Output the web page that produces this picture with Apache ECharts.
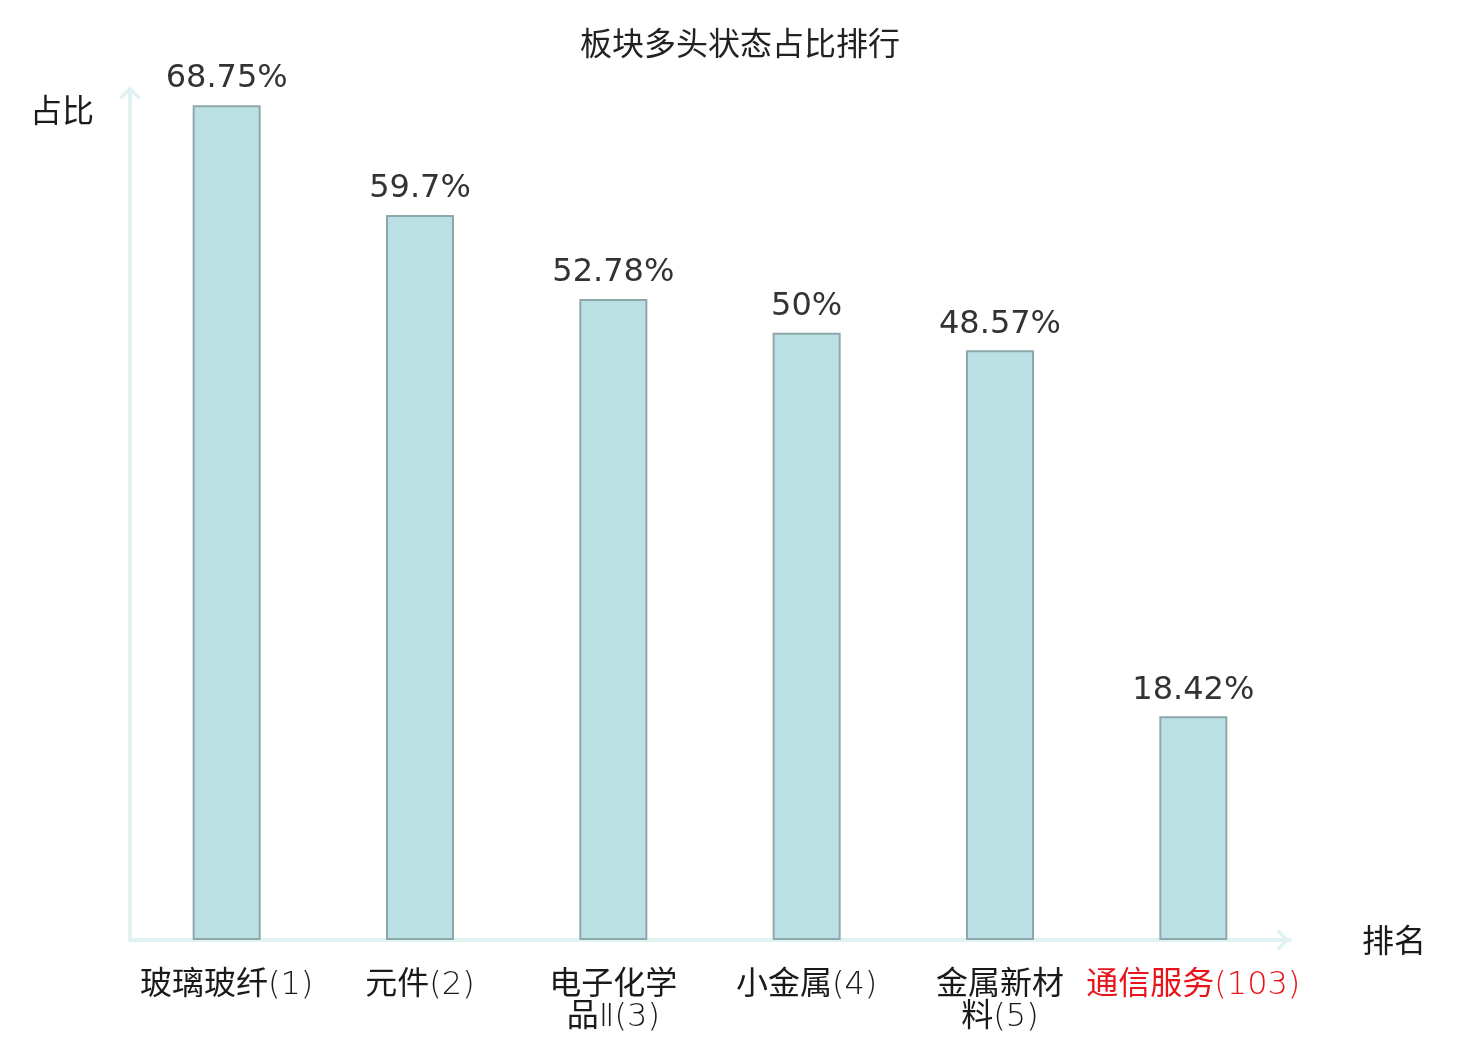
<!DOCTYPE html>
<html>
<head>
<meta charset="utf-8">
<title>板块多头状态占比排行</title>
<script src="https://cdn.jsdelivr.net/npm/echarts@6/dist/echarts.min.js"></script>
<style>
  html, body { margin: 0; padding: 0; background: #fff; }
  #main { width: 1480px; height: 1040px; }
</style>
</head>
<body>
<div id="main"></div>
<script>
// 板块名称、排名、多头占比
const sectors = ['玻璃玻纤', '元件', '电子化学品Ⅱ', '小金属', '金属新材料', '通信服务'];
const ranks = [1, 2, 3, 4, 5, 103];
const ratios = [68.75, 59.7, 52.78, 50, 48.57, 18.42];
const highlightIdx = 5; // 当前关注板块，标红

const axisColor = '#e0f2f1';
const labelColor = '#1a1a1a';
const chevron = 'path://M11,0 L22,11 L19.5,13.5 L11,5 L2.5,13.5 L0,11 Z';

// 名称超过4个字就换行
function wrapName(name, rank) {
  let s = name.length > 4 ? name.slice(0, 4) + '\n' + name.slice(4) : name;
  return s + '(' + rank + ')';
}

let xData = sectors.map(function (n, i) {
  let item = { value: wrapName(n, ranks[i]) };
  if (i === highlightIdx) {
    item.textStyle = { color: '#e8141b' };
  }
  return item;
});

let chart = echarts.init(document.getElementById('main'));
let option = {
  title: {
    text: '板块多头状态占比排行',
    left: 'center',
    top: 22,
    textStyle: {
      fontFamily: 'Noto Sans CJK SC',
      fontSize: 32,
      fontWeight: 'normal',
      color: '#222'
    }
  },
  grid: {
    left: 130,
    right: 190,
    top: 90,
    bottom: 100
  },
  xAxis: {
    type: 'category',
    data: xData,
    name: '排名',
    nameLocation: 'end',
    nameGap: 72,
    nameTextStyle: {
      fontFamily: 'Noto Sans CJK SC',
      fontSize: 32,
      color: labelColor,
      verticalAlign: 'middle'
    },
    axisLine: {
      show: true,
      symbol: ['none', chevron],
      symbolSize: [22, 14],
      symbolOffset: [0, -7],
      lineStyle: { color: axisColor, width: 4 }
    },
    axisTick: { show: false },
    axisLabel: {
      interval: 0,
      margin: 30,
      fontFamily: '"DejaVu Sans Light", "Noto Sans CJK SC"',
      fontSize: 32,
      lineHeight: 32,
      color: labelColor
    }
  },
  yAxis: {
    type: 'value',
    min: 0,
    max: 70,
    name: '占比',
    nameLocation: 'end',
    nameGap: -20,
    nameTextStyle: {
      fontFamily: 'Noto Sans CJK SC',
      fontSize: 32,
      color: labelColor,
      align: 'right',
      verticalAlign: 'middle',
      padding: [0, 36, 0, 0]
    },
    axisLine: {
      show: true,
      symbol: ['none', chevron],
      symbolSize: [22, 14],
      symbolOffset: [0, -3],
      lineStyle: { color: axisColor, width: 4 }
    },
    axisTick: { show: false },
    axisLabel: { show: false },
    splitLine: { show: false }
  },
  series: [{
    type: 'bar',
    data: ratios,
    barWidth: 68,
    itemStyle: {
      color: '#bbe0e3',
      borderColor: '#8ca8aa',
      borderWidth: 2
    },
    label: {
      show: true,
      position: 'top',
      distance: 10,
      formatter: '{c}%',
      fontFamily: 'DejaVu Sans',
      fontSize: 32,
      color: '#333'
    },
    emphasis: { disabled: true }
  }]
};
chart.setOption(option);
</script>
</body>
</html>
